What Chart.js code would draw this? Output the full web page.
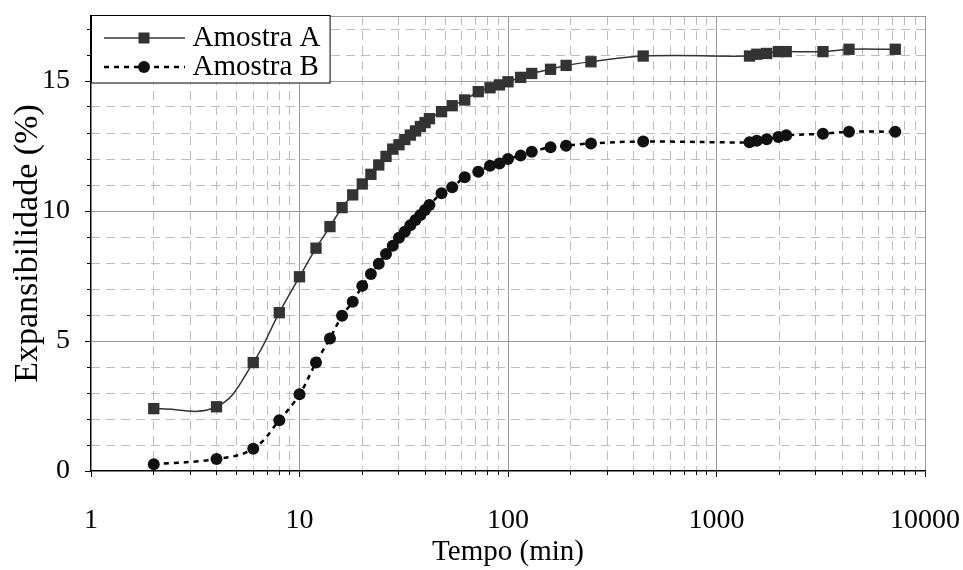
<!DOCTYPE html>
<html>
<head>
<meta charset="utf-8">
<script src="https://cdn.jsdelivr.net/npm/chart.js@4"></script>
<style>
  body { margin: 0; background: #fff; }
</style>
</head>
<body>
<canvas id="myChart" width="963" height="570"></canvas>
<script>
// tempo (min)
const times = [2, 4, 6, 8, 10, 12, 14, 16, 18, 20, 22, 24, 26, 28, 30, 32, 34, 36, 38, 40, 42,
  48, 54, 62, 72, 82, 91, 100, 115, 130, 160, 190, 250, 445,
  1440, 1560, 1740, 1980, 2160, 3240, 4320, 7200];

// expansibilidade (%)
const amostraA = [2.4, 2.47, 4.17, 6.09, 7.47, 8.57, 9.4, 10.13, 10.62, 11.04, 11.41, 11.77, 12.1, 12.38, 12.55, 12.75, 12.92, 13.08, 13.25, 13.4, 13.55,
  13.82, 14.05, 14.27, 14.59, 14.74, 14.85, 14.97, 15.14, 15.29, 15.45, 15.6, 15.74, 15.96,
  15.96, 16.03, 16.06, 16.13, 16.13, 16.13, 16.22, 16.22];

const amostraB = [0.26, 0.46, 0.86, 1.95, 2.95, 4.17, 5.1, 5.97, 6.51, 7.12, 7.58, 7.97, 8.35, 8.66, 8.97, 9.2, 9.45, 9.65, 9.85, 10.04, 10.23,
  10.68, 10.91, 11.3, 11.51, 11.74, 11.83, 12.0, 12.13, 12.28, 12.45, 12.51, 12.6, 12.67,
  12.64, 12.7, 12.76, 12.85, 12.91, 12.97, 13.05, 13.05];

const xMajor = [1, 10, 100, 1000, 10000];
const xMinor = [2, 3, 4, 5, 6, 7, 8, 9, 20, 30, 40, 50, 60, 70, 80, 90,
  200, 300, 400, 500, 600, 700, 800, 900, 2000, 3000, 4000, 5000, 6000, 7000, 8000, 9000];
const yMajor = [0, 5, 10, 15];
const yMinor = [1, 2, 3, 4, 6, 7, 8, 9, 11, 12, 13, 14, 16, 17];

const serif = 'Liberation Serif';

function legendIcon(dashed) {
  const c = document.createElement('canvas');
  c.width = 101;
  c.height = 20;
  const g = c.getContext('2d');
  g.strokeStyle = dashed ? '#000' : '#333';
  g.lineWidth = dashed ? 2.5 : 1.5;
  if (dashed) g.setLineDash([5, 5]);
  g.beginPath();
  g.moveTo(20, 10);
  g.lineTo(101, 10);
  g.stroke();
  g.setLineDash([]);
  if (dashed) {
    g.fillStyle = '#111';
    g.beginPath();
    g.arc(60, 10, 6, 0, Math.PI * 2);
    g.fill();
  } else {
    g.fillStyle = '#333';
    g.fillRect(54.5, 4.5, 11, 11);
  }
  return c;
}
const icons = [legendIcon(false), legendIcon(true)];

// scales keep their own label padding out of the layout
function noPad(axis) {
  axis.paddingTop = 0;
  axis.paddingBottom = 0;
  axis.paddingLeft = 0;
  axis.paddingRight = 0;
}

const frame = {
  id: 'frame',
  beforeDatasetsDraw(chart) {
    const a = chart.chartArea;
    const ctx = chart.ctx;
    ctx.save();
    ctx.strokeStyle = '#999';
    ctx.lineWidth = 1;
    ctx.beginPath();
    ctx.moveTo(a.left, a.top + 0.5);
    ctx.lineTo(a.right, a.top + 0.5);
    ctx.stroke();
    ctx.restore();
  }
};

const legendBox = {
  id: 'legendBox',
  afterDatasetsDraw(chart) {
    const lg = chart.legend;
    const boxes = lg.legendHitBoxes;
    if (!boxes || !boxes.length) return;
    const a = chart.chartArea;
    const ctx = chart.ctx;
    const right = Math.max(...boxes.map(b => b.left + b.width)) + 9;
    const last = boxes[boxes.length - 1];
    const bottom = last.top + last.height + 2;
    ctx.save();
    ctx.fillStyle = '#fff';
    ctx.fillRect(a.left, a.top - 1, right - a.left, bottom - a.top + 1);
    ctx.strokeStyle = '#000';
    ctx.lineWidth = 1;
    ctx.strokeRect(a.left + 0.5, a.top - 0.5, right - a.left, bottom - a.top);
    ctx.restore();
    lg.draw();
  }
};

const chart1 = document.getElementById('myChart').getContext('2d');

const myChart = new Chart(chart1, {
  type: 'line',
  data: {
    datasets: [{
      label: 'Amostra A',
      data: times.map((t, i) => ({ x: t, y: amostraA[i] })),
      borderColor: '#333',
      borderWidth: 1.5,
      pointStyle: 'rect',
      pointRadius: 8,
      pointBackgroundColor: '#333',
      pointBorderColor: '#333',
      pointBorderWidth: 0,
      tension: 0.4
    }, {
      label: 'Amostra B',
      data: times.map((t, i) => ({ x: t, y: amostraB[i] })),
      borderColor: '#000',
      borderWidth: 2.5,
      borderDash: [5, 5],
      pointStyle: 'circle',
      pointRadius: 6,
      pointBackgroundColor: '#111',
      pointBorderColor: '#111',
      pointBorderWidth: 0,
      tension: 0.4
    }]
  },
  options: {
    responsive: false,
    animation: false,
    layout: {
      padding: { left: 0, top: 16, right: 38, bottom: 0 }
    },
    plugins: {
      tooltip: { enabled: false },
      legend: {
        position: 'chartArea',
        align: 'start',
        title: { display: true, text: '', padding: 0, font: { size: 1, lineHeight: 23.5 } },
        labels: {
          usePointStyle: true,
          pointStyleWidth: 87,
          padding: 0,
          color: '#000',
          font: { family: serif, size: 29 },
          generateLabels(chart) {
            const items = Chart.defaults.plugins.legend.labels.generateLabels(chart);
            items.forEach((it, i) => { it.pointStyle = icons[i]; });
            return items;
          }
        }
      }
    },
    scales: {
      x: {
        type: 'logarithmic',
        position: 'bottom',
        min: 1,
        max: 10000,
        weight: 1,
        afterBuildTicks: (axis) => { axis.ticks = xMajor.map(v => ({ value: v })); },
        afterFit: (axis) => { axis.height = 99; noPad(axis); },
        grid: {
          color: (c) => (c.tick && c.tick.value === 1) ? 'rgba(0,0,0,0)' : '#999',
          lineWidth: 1,
          tickLength: 6,
          tickColor: '#000'
        },
        border: { color: '#000', width: 1.5 },
        ticks: {
          autoSkip: false,
          maxRotation: 0,
          padding: 27,
          color: '#000',
          font: { family: serif, size: 28 },
          callback: (v) => String(v)
        },
        title: {
          display: true,
          text: 'Tempo (min)',
          color: '#000',
          padding: { top: 0, bottom: 0 },
          font: { family: serif, size: 29 }
        }
      },
      x2: {
        type: 'logarithmic',
        position: 'bottom',
        min: 1,
        max: 10000,
        weight: 0,
        afterBuildTicks: (axis) => { axis.ticks = xMinor.map(v => ({ value: v })); },
        afterFit: (axis) => { axis.height = 0; noPad(axis); },
        grid: {
          color: '#bdbdbd',
          lineWidth: 1,
          tickLength: 4,
          tickColor: '#000'
        },
        border: { display: false, dash: [9, 6] },
        ticks: { display: false }
      },
      y: {
        type: 'linear',
        position: 'left',
        min: 0,
        max: 17.5,
        weight: 1,
        afterBuildTicks: (axis) => { axis.ticks = yMajor.map(v => ({ value: v })); },
        afterFit: (axis) => { axis.width = 91; noPad(axis); },
        grid: {
          color: (c) => (c.tick && c.tick.value === 0) ? 'rgba(0,0,0,0)' : '#999',
          lineWidth: 1,
          tickLength: 6,
          tickColor: '#000'
        },
        border: { color: '#000', width: 1.5 },
        ticks: {
          padding: 15,
          color: '#000',
          font: { family: serif, size: 28 },
          callback: (v) => String(v)
        },
        title: {
          display: true,
          text: 'Expansibilidade (%)',
          color: '#000',
          padding: { top: 8, bottom: 0 },
          font: { family: serif, size: 34 }
        }
      },
      y2: {
        type: 'linear',
        position: 'left',
        min: 0,
        max: 17.5,
        weight: 0,
        afterBuildTicks: (axis) => { axis.ticks = yMinor.map(v => ({ value: v })); },
        afterFit: (axis) => { axis.width = 0; noPad(axis); },
        grid: {
          color: '#bdbdbd',
          lineWidth: 1,
          tickLength: 4,
          tickColor: '#000'
        },
        border: { display: false, dash: [9, 6] },
        ticks: { display: false }
      }
    }
  },
  plugins: [frame, legendBox]
});
</script>
</body>
</html>
